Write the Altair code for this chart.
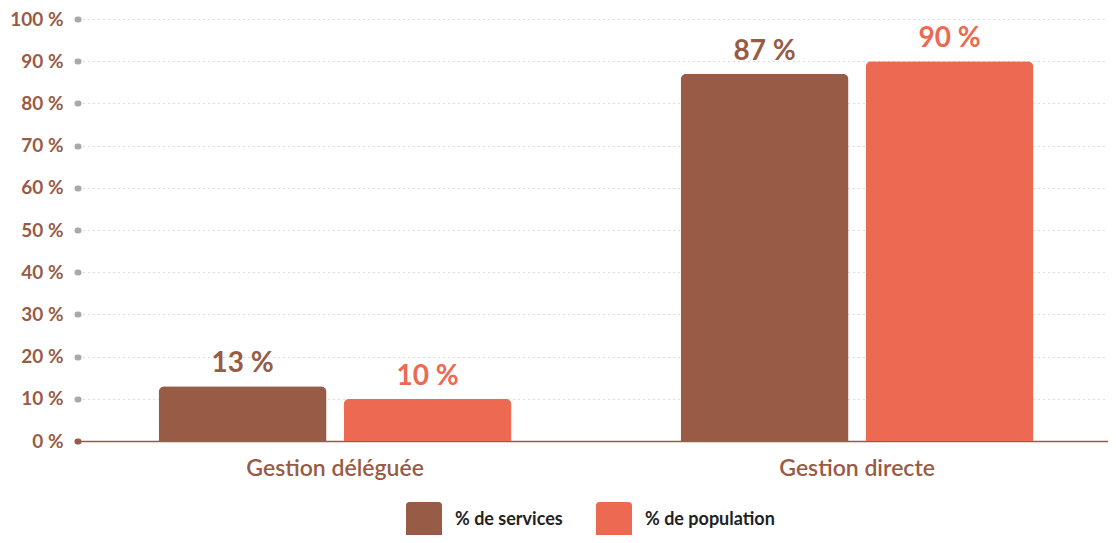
import altair as alt
import pandas as pd

categories = ["Gestion déléguée", "Gestion déléguée", "Gestion directe", "Gestion directe"]
series = ["% de services", "% de population", "% de services", "% de population"]
values = [13, 10, 87, 90]
labels = ["13 %", "10 %", "87 %", "90 %"]

df = pd.DataFrame({"cat": categories, "serie": series, "val": values, "lab": labels})

BROWN = "#985B45"
CORAL = "#EC6A52"
FONT = "Lato"

color_scale = alt.Scale(domain=["% de services", "% de population"], range=[BROWN, CORAL])
rounded = ("M -0.8 -1 L 0.8 -1 Q 1 -1 1 -0.8 L 1 0.8 Q 1 1 0.8 1 "
           "L -0.8 1 Q -1 1 -1 0.8 L -1 -0.8 Q -1 -1 -0.8 -1 Z")

base = alt.Chart(df).encode(
    x=alt.X("cat:N", title=None, sort=["Gestion déléguée", "Gestion directe"],
            scale=alt.Scale(paddingInner=0.324, paddingOuter=0.1486, align=0.52, round=False),
            axis=alt.Axis(labelAngle=0, labelFont=FONT, labelFontSize=23, labelFontWeight=600,
                          labelColor=BROWN, labelPadding=16, ticks=False,
                          domainColor=BROWN, domainWidth=1.5)),
    xOffset=alt.XOffset("serie:N", sort=["% de services", "% de population"],
                        scale=alt.Scale(paddingInner=0.092, paddingOuter=0, round=False)),
    y=alt.Y("val:Q", title=None, scale=alt.Scale(domain=[0, 100], nice=False),
            axis=alt.Axis(values=list(range(0, 101, 10)), labelExpr="datum.value + ' %'",
                          labelFont=FONT, labelFontSize=19, labelFontWeight="bold",
                          labelColor=BROWN, labelPadding=14, domain=False,
                          tickSize=1, tickWidth=6, tickCap="round",
                          tickColor={"condition": {"test": "datum.value == 0", "value": BROWN}, "value": "#a9a9a9"},
                          grid=True, gridDash=[1, 4], gridColor="#b8b8b8", gridWidth=1)),
    color=alt.Color("serie:N", scale=color_scale, sort=["% de services", "% de population"],
                    legend=alt.Legend(title=None, orient="none", legendX=328, legendY=483,
                                      direction="horizontal", symbolType=rounded, symbolSize=1296,
                                      symbolStrokeWidth=0, labelFont=FONT, labelFontSize=18,
                                      labelFontWeight="bold", labelColor="#222222",
                                      labelOffset=13, columnPadding=33)),
)

bars = base.mark_bar(cornerRadiusTopLeft=6, cornerRadiusTopRight=6)
text = base.mark_text(baseline="bottom", dy=-8, font=FONT, fontSize=28, fontWeight="bold").encode(
    text="lab:N")

chart = (bars + text).properties(
    width=1030, height=422,
    autosize=alt.AutoSizeParams(type="none"),
    padding={"left": 70, "top": 11, "right": 0, "bottom": 94},
).configure_view(stroke=None)

chart.save("out.html", embed_options={"renderer": "svg", "actions": False})
